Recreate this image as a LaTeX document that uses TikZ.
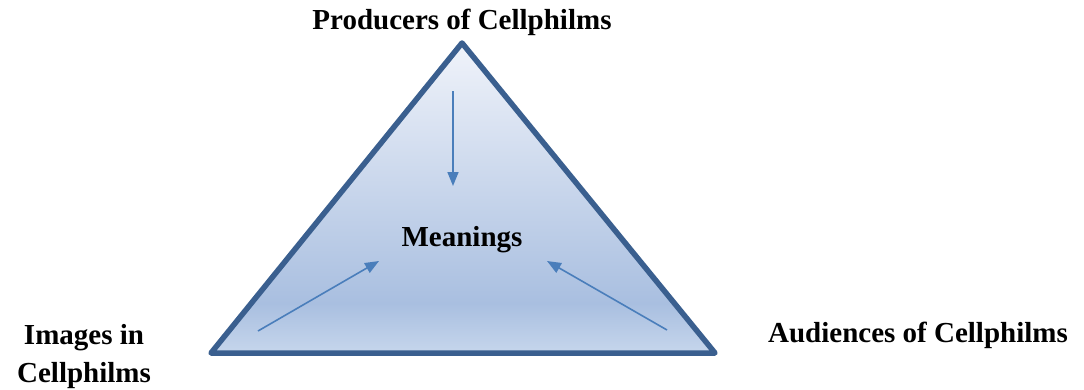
\documentclass[tikz,border=0pt]{standalone}
\usepackage{fontspec}
\setmainfont{Liberation Serif}
\usetikzlibrary{arrows.meta}
\definecolor{topc}{HTML}{F0F3FA}
\definecolor{darkc}{HTML}{A9BFE0}
\definecolor{botc}{HTML}{C6D6EC}
\definecolor{borderc}{HTML}{3A5F8F}
\definecolor{arrowc}{HTML}{4A7EBB}
\pgfdeclareverticalshading{trishade}{100bp}{color(0bp)=(botc); color(25bp)=(botc); color(33bp)=(darkc); color(75bp)=(topc); color(100bp)=(topc)}
\begin{document}
\begin{tikzpicture}[x=1pt,y=-1pt,
  lbl/.style={font=\fontsize{29}{38}\selectfont\bfseries, inner sep=0pt, align=center},
  flow/.style={draw=arrowc, line width=1.6pt, -{Triangle[length=14pt,width=11pt]}}]
\useasboundingbox (0,0) rectangle (1084,389);
\coordinate (apex) at (462,43);
\coordinate (bl) at (211,353);
\coordinate (br) at (715,353);
\path[shading=trishade] (apex) -- (br) -- (bl) -- cycle;
\draw[borderc, line width=5.5pt, line join=round] (apex) -- (br) -- (bl) -- cycle;
\node[lbl] (prod) at (462,22) {Producers of Cellphilms};
\node[lbl] (mean) at (462,240) {Meanings};
\node[lbl] (img) at (84,357) {Images in\\Cellphilms};
\node[lbl] (aud) at (918,335) {Audiences of Cellphilms};
\coordinate (a1s) at (453,91);
\coordinate (a1e) at (453,186);
\coordinate (a2s) at (258,331);
\coordinate (a2e) at (379,261);
\coordinate (a3s) at (667,330);
\coordinate (a3e) at (547,261);
\draw[flow] (a1s) -- (a1e);
\draw[flow] (a2s) -- (a2e);
\draw[flow] (a3s) -- (a3e);
\end{tikzpicture}
\end{document}
